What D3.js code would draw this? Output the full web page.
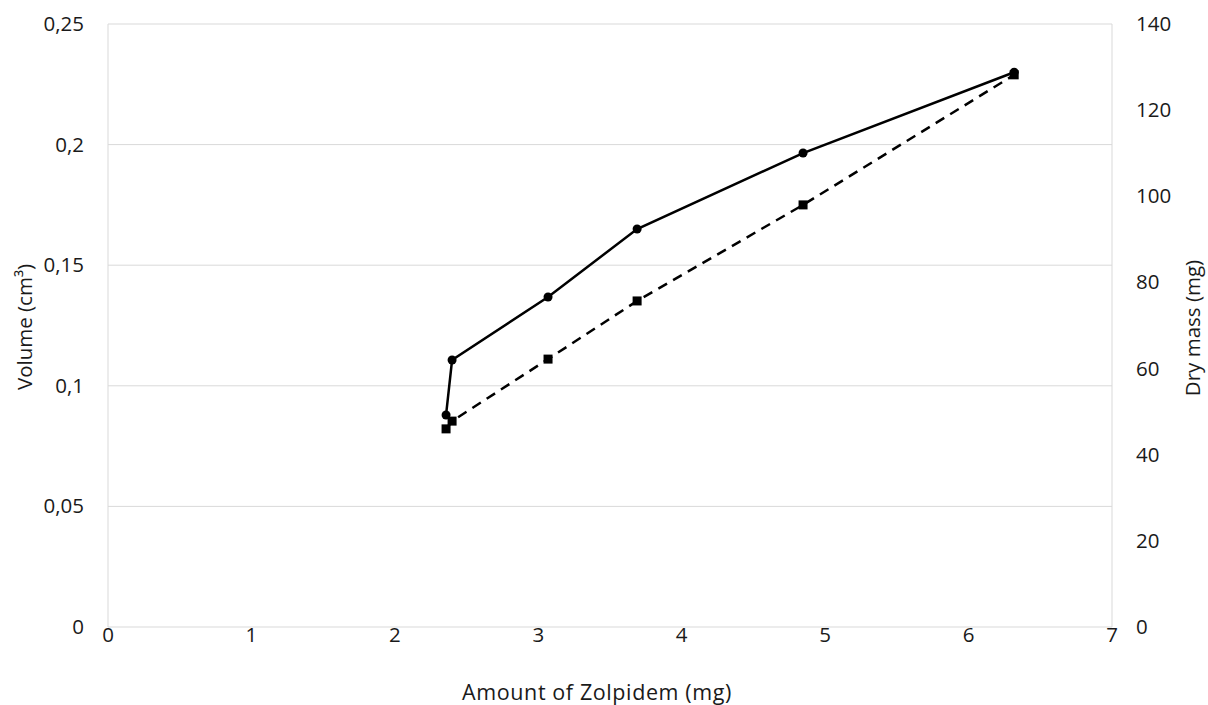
<!DOCTYPE html>
<html><head><meta charset="utf-8">
<script src="https://cdn.jsdelivr.net/npm/d3@7"></script>
<style>body{margin:0;background:#fff;} text{font-family:"Open Sans","Liberation Sans",sans-serif;fill:#1a1a1a;}</style>
</head><body><svg id="c" width="1208" height="705"></svg>
<script>
const zolpidem = [2.357, 2.399, 3.068, 3.689, 4.846, 6.318];
const volume = [0.0879, 0.1107, 0.1368, 0.165, 0.1965, 0.230];
const dryMass = [46.0, 47.8, 62.2, 75.7, 98.0, 128.2];
const xTicks = [0,1,2,3,4,5,6,7];
const yTicks = [0,0.05,0.1,0.15,0.2,0.25];
const y2Ticks = [0,20,40,60,80,100,120,140];

const svg = d3.select("#c");
const L=108, R=1112, T=24, B=627;
const x = d3.scaleLinear().domain([0,7]).range([L,R]);
const y = d3.scaleLinear().domain([0,0.25]).range([B,T]);
const y2 = d3.scaleLinear().domain([0,140]).range([B,T]);
const grid="#d9d9d9";

svg.append("g").selectAll("line").data(yTicks).join("line")
  .attr("x1",L).attr("x2",R).attr("y1",d=>y(d)).attr("y2",d=>y(d))
  .attr("stroke",grid).attr("stroke-width",1);
svg.append("line").attr("x1",L).attr("x2",L).attr("y1",T).attr("y2",B).attr("stroke",grid);
svg.append("line").attr("x1",R).attr("x2",R).attr("y1",T).attr("y2",B).attr("stroke",grid);

const fmt = d=>String(d).replace(".",",");
const fs=20.5;
svg.append("g").selectAll("text").data(yTicks).join("text")
  .attr("x",84).attr("y",d=>y(d)+7).attr("text-anchor","end").attr("font-size",fs).text(fmt);
svg.append("g").selectAll("text").data(y2Ticks).join("text")
  .attr("x",1136).attr("y",d=>y2(d)+7).attr("text-anchor","start").attr("font-size",fs).text(d=>d);
svg.append("g").selectAll("text").data(xTicks).join("text")
  .attr("x",d=>x(d)).attr("y",642).attr("text-anchor","middle").attr("font-size",fs).text(d=>d);

svg.append("text").attr("x",597).attr("y",700).attr("text-anchor","middle").attr("font-size",21.5).attr("letter-spacing",0.6).text("Amount of Zolpidem (mg)");
svg.append("text").attr("transform",`translate(32,${327}) rotate(-90)`).attr("text-anchor","middle").attr("font-size",20.5).text("Volume (cm³)");
svg.append("text").attr("transform",`translate(1200,${328}) rotate(-90)`).attr("text-anchor","middle").attr("font-size",20.5).text("Dry mass (mg)");

const volData = zolpidem.map((v,i)=>[v,volume[i]]);
const massData = zolpidem.map((v,i)=>[v,dryMass[i]]);

svg.append("path").datum(massData)
  .attr("d",d3.line().x(d=>x(d[0])).y(d=>y2(d[1])))
  .attr("fill","none").attr("stroke","#000").attr("stroke-width",2.5).attr("stroke-dasharray","10,7");
svg.append("path").datum(volData)
  .attr("d",d3.line().x(d=>x(d[0])).y(d=>y(d[1])))
  .attr("fill","none").attr("stroke","#000").attr("stroke-width",2.5);

svg.append("g").selectAll("rect").data(massData).join("rect")
  .attr("x",d=>x(d[0])-4.5).attr("y",d=>y2(d[1])-4.5).attr("width",9).attr("height",9).attr("fill","#000");
svg.append("g").selectAll("circle").data(volData).join("circle")
  .attr("cx",d=>x(d[0])).attr("cy",d=>y(d[1])).attr("r",4.5).attr("fill","#000");
</script></body></html>
